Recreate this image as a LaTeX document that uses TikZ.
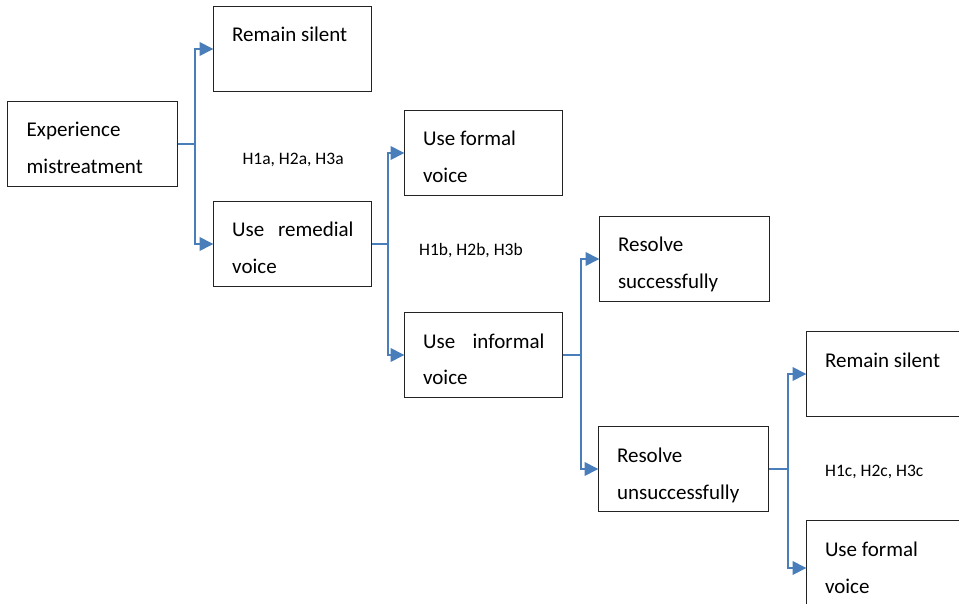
\documentclass[tikz,border=0pt]{standalone}
\usepackage{fontspec}
\setmainfont{Carlito}
\usetikzlibrary{arrows.meta,calc}
\definecolor{conblue}{RGB}{74,126,187}
\definecolor{boxline}{RGB}{35,35,35}
\begin{document}
\begin{tikzpicture}[x=1pt,y=-1pt,
  box/.style={draw=boxline,line width=1.2pt,minimum width=158pt,minimum height=85pt,anchor=north west,inner sep=0pt,outer sep=0pt},
  txt/.style={anchor=base west,inner sep=0pt,font=\fontsize{21}{25}\selectfont},
  lbl/.style={anchor=base west,inner sep=0pt,font=\fontsize{17.5}{21}\selectfont},
  conn/.style={draw=conblue,line width=2pt},
  arr/.style={conn,-{Triangle[length=14pt,width=13.5pt]}}]
\path[use as bounding box,clip] (0,0) rectangle (959,604);

% boxes
\node[box,minimum width=170pt] (exp) at (7.5,101.5) {};
\node[box] (rs1) at (213.5,6.5) {};
\node[box] (urv) at (213.5,201.5) {};
\node[box] (ufv1) at (404.5,110.5) {};
\node[box] (uiv) at (404.5,312.5) {};
\node[box,minimum width=170pt] (rs) at (599.5,216.5) {};
\node[box,minimum width=170pt] (ru) at (598.5,426.5) {};
\node[box,minimum width=220pt] (rs2) at (806.5,331.5) {};
\node[box,minimum width=220pt,minimum height=95pt] (ufv2) at (806.5,520.5) {};

% texts
\node[txt] (exp1) at ($(exp.north west)+(19,35.2)$) {Experience};
\node[txt] (exp2) at ($(exp1.base west)+(0,36.8)$) {mistreatment};
\node[txt] (rs1a) at ($(rs1.north west)+(18.5,34.7)$) {Remain silent};
\node[txt] (urva) at ($(urv.north west)+(18.5,35)$) {\makebox[121.3pt][s]{Use remedial}};
\node[txt] (urvb) at ($(urva.base west)+(0,37.3)$) {voice};
\node[txt] (ufv1a) at ($(ufv1.north west)+(18.4,35)$) {Use formal};
\node[txt] (ufv1b) at ($(ufv1a.base west)+(0,37)$) {voice};
\node[txt] (uiva) at ($(uiv.north west)+(18.4,35.6)$) {\makebox[121.3pt][s]{Use informal}};
\node[txt] (uivb) at ($(uiva.base west)+(0,36.7)$) {voice};
\node[txt] (rsa) at ($(rs.north west)+(18.3,35)$) {Resolve};
\node[txt] (rsb) at ($(rsa.base west)+(0,37.3)$) {successfully};
\node[txt] (rua) at ($(ru.north west)+(18.3,35.7)$) {Resolve};
\node[txt] (rub) at ($(rua.base west)+(0,37.3)$) {unsuccessfully};
\node[txt] (rs2a) at ($(rs2.north west)+(18.3,35.7)$) {Remain silent};
\node[txt] (ufv2a) at ($(ufv2.north west)+(18.3,36)$) {Use formal};
\node[txt] (ufv2b) at ($(ufv2a.base west)+(0,36.6)$) {voice};

% labels
\node[lbl] (la) at (242.3,164.3) {H1a, H2a, H3a};
\node[lbl] (lb) at (419,255.7) {H1b, H2b, H3b};
\node[lbl] (lc) at (825,476.7) {H1c, H2c, H3c};

% connectors
\coordinate (j1) at ($(exp.east)+(17.5,0)$);
\draw[conn] (exp.east) -- (j1);
\draw[arr] (j1) |- (rs1.west);
\draw[arr] (j1) |- (urv.west);

\coordinate (j2) at ($(urv.east)+(16,0)$);
\draw[conn] (urv.east) -- (j2);
\draw[arr] (j2) |- (ufv1.west);
\draw[arr] (j2) |- (uiv.west);

\coordinate (j3) at ($(uiv.east)+(18.5,0)$);
\draw[conn] (uiv.east) -- (j3);
\draw[arr] (j3) |- (rs.west);
\draw[arr] (j3) |- (ru.west);

\coordinate (j4) at ($(ru.east)+(19,0)$);
\draw[conn] (ru.east) -- (j4);
\draw[arr] (j4) |- (rs2.west);
\draw[arr] (j4) |- (ufv2.west);
\end{tikzpicture}
\end{document}
